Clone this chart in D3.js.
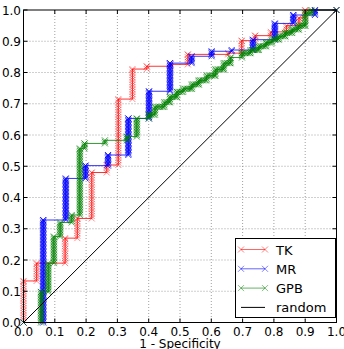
<!DOCTYPE html>
<html>
  <head>
    <meta charset="utf-8" />
    <style>
      body { margin: 0; background: #fff; }
      text { font-family: "DejaVu Sans", sans-serif; }
    </style>
    <script src="https://d3js.org/d3.v7.min.js"></script>
  </head>
  <body>
    <div id="chart"></div>
    <script type="text/javascript">
      // ROC step curves, [1 - specificity, sensitivity]
      var tkPoints = [
        [0, 0], [0, 0.133], [0.042, 0.133], [0.042, 0.19], [0.133, 0.19],
        [0.133, 0.27], [0.172, 0.27], [0.172, 0.333], [0.218, 0.333],
        [0.218, 0.48], [0.266, 0.48], [0.266, 0.504], [0.303, 0.504],
        [0.303, 0.715], [0.348, 0.715], [0.348, 0.811], [0.394, 0.811],
        [0.394, 0.82], [0.47, 0.82], [0.47, 0.826], [0.525, 0.826],
        [0.525, 0.858], [0.654, 0.858], [0.654, 0.862], [0.697, 0.862],
        [0.697, 0.902], [0.74, 0.902], [0.74, 0.918], [0.79, 0.918],
        [0.79, 0.93], [0.84, 0.93], [0.84, 0.95], [0.88, 0.95],
        [0.88, 0.975], [0.9, 0.975], [0.9, 1.0], [1, 1]
      ];
      var mrPoints = [
        [0, 0], [0.063, 0], [0.063, 0.328], [0.135, 0.328], [0.135, 0.461],
        [0.198, 0.461], [0.198, 0.502], [0.27, 0.502], [0.27, 0.536],
        [0.335, 0.536], [0.335, 0.653], [0.401, 0.653], [0.401, 0.74],
        [0.468, 0.74], [0.468, 0.83], [0.537, 0.83], [0.537, 0.852],
        [0.601, 0.852], [0.601, 0.868], [0.665, 0.868], [0.665, 0.872],
        [0.733, 0.872], [0.733, 0.905], [0.803, 0.905], [0.803, 0.957],
        [0.862, 0.957], [0.862, 0.984], [0.931, 0.984], [0.931, 1.0], [1, 1]
      ];
      var gpbPoints = [
        [0, 0], [0.056, 0], [0.056, 0.098], [0.079, 0.098], [0.079, 0.19],
        [0.097, 0.19], [0.097, 0.275], [0.117, 0.275], [0.117, 0.32],
        [0.154, 0.32], [0.154, 0.344], [0.18, 0.344], [0.18, 0.557],
        [0.195, 0.557], [0.195, 0.573], [0.26, 0.573], [0.26, 0.583],
        [0.33, 0.583], [0.33, 0.595], [0.362, 0.595], [0.362, 0.653],
        [0.4, 0.653], [0.4, 0.665], [0.42, 0.665], [0.42, 0.69],
        [0.45, 0.69], [0.45, 0.705], [0.468, 0.705], [0.468, 0.722],
        [0.49, 0.722], [0.49, 0.738], [0.51, 0.738], [0.51, 0.748],
        [0.538, 0.748], [0.538, 0.762], [0.56, 0.762], [0.56, 0.775],
        [0.585, 0.775], [0.585, 0.79], [0.613, 0.79], [0.613, 0.81],
        [0.64, 0.81], [0.64, 0.83], [0.661, 0.83], [0.661, 0.848],
        [0.698, 0.848], [0.698, 0.862], [0.725, 0.862], [0.725, 0.872],
        [0.751, 0.872], [0.751, 0.884], [0.775, 0.884], [0.775, 0.896],
        [0.794, 0.896], [0.794, 0.906], [0.815, 0.906], [0.815, 0.916],
        [0.836, 0.916], [0.836, 0.927], [0.858, 0.927], [0.858, 0.938],
        [0.879, 0.938], [0.879, 0.95], [0.9, 0.95], [0.9, 0.99],
        [0.92, 0.99], [0.92, 1.0], [1, 1]
      ];
      var randomPoints = [[0, 0], [1, 1]];

      var seriesNames = ["TK", "MR", "GPB", "random"];
      var seriesColors = ["#ff0000", "#0000ff", "#008000", "#000000"];
      var tickValues = [0, 0.1, 0.2, 0.3, 0.4, 0.5, 0.6, 0.7, 0.8, 0.9, 1.0];

      var series = [
        { name: "TK", pts: tkPoints, color: seriesColors[0], op: 0.45, step: 2.4 },
        { name: "MR", pts: mrPoints, color: seriesColors[1], op: 0.8, step: 1.4 },
        { name: "GPB", pts: gpbPoints, color: seriesColors[2], op: 0.7, step: 1.6 }
      ];

      var w = 344, h = 349;
      var padL = 23.5, padR = 336.5, padT = 10, padB = 322.5;

      var x = d3.scaleLinear().domain([0, 1]).range([padL, padR]);
      var y = d3.scaleLinear().domain([0, 1]).range([padB, padT]);

      var svg = d3.select("#chart").append("svg")
        .attr("width", w).attr("height", h);

      // grid
      var grid = svg.append("g");
      grid.selectAll("line.gx").data(tickValues.slice(1, -1)).enter().append("line")
        .attr("x1", function (d) { return x(d); }).attr("x2", function (d) { return x(d); })
        .attr("y1", padT).attr("y2", padB)
        .attr("stroke", "#888").attr("stroke-width", 0.8).attr("stroke-dasharray", "1,2");
      grid.selectAll("line.gy").data(tickValues.slice(1, -1)).enter().append("line")
        .attr("y1", function (d) { return y(d); }).attr("y2", function (d) { return y(d); })
        .attr("x1", padL).attr("x2", padR)
        .attr("stroke", "#888").attr("stroke-width", 0.8).attr("stroke-dasharray", "1,2");

      var line = d3.line().x(function (d) { return x(d[0]); }).y(function (d) { return y(d[1]); });

      function xMarker(g, cx, cy, color, op) {
        var s = 3;
        g.append("path")
          .attr("d", "M" + (cx - s) + "," + (cy - s) + "L" + (cx + s) + "," + (cy + s) +
                     "M" + (cx - s) + "," + (cy + s) + "L" + (cx + s) + "," + (cy - s))
          .attr("stroke", color).attr("stroke-width", 1).attr("stroke-opacity", op)
          .attr("fill", "none");
      }

      series.forEach(function (s) {
        var g = svg.append("g");
        g.append("path").datum(s.pts).attr("d", line)
          .attr("fill", "none").attr("stroke", s.color)
          .attr("stroke-width", 1).attr("stroke-opacity", 0.8);
        // markers at the vertices, dense along vertical runs and short treads
        s.pts.forEach(function (p, i) {
          xMarker(g, x(p[0]), y(p[1]), s.color, s.op);
          if (i === 0) return;
          var q = s.pts[i - 1];
          var x0 = x(q[0]), y0 = y(q[1]), x1 = x(p[0]), y1 = y(p[1]);
          var len = Math.hypot(x1 - x0, y1 - y0);
          var dense = (q[0] === p[0]) || (s.name === "GPB" && len < 10 && q[1] > 0.6);
          if (!dense) return;
          for (var d = s.step; d < len; d += s.step) {
            xMarker(g, x0 + (x1 - x0) * d / len, y0 + (y1 - y0) * d / len, s.color, s.op);
          }
        });
      });

      svg.append("path").datum(randomPoints).attr("d", line)
        .attr("fill", "none").attr("stroke", "#000").attr("stroke-width", 1);

      // frame and inward ticks
      svg.append("rect").attr("x", padL).attr("y", padT)
        .attr("width", padR - padL).attr("height", padB - padT)
        .attr("fill", "none").attr("stroke", "#000").attr("stroke-width", 1);

      var ticks = svg.append("g").attr("stroke", "#000").attr("stroke-width", 1);
      tickValues.forEach(function (t) {
        ticks.append("line").attr("x1", x(t)).attr("x2", x(t)).attr("y1", padB).attr("y2", padB - 4);
        ticks.append("line").attr("x1", x(t)).attr("x2", x(t)).attr("y1", padT).attr("y2", padT + 4);
        ticks.append("line").attr("y1", y(t)).attr("y2", y(t)).attr("x1", padL).attr("x2", padL + 4);
        ticks.append("line").attr("y1", y(t)).attr("y2", y(t)).attr("x1", padR).attr("x2", padR - 4);
      });

      svg.selectAll("text.xt").data(tickValues).enter().append("text")
        .attr("x", function (d) { return x(d); }).attr("y", 336)
        .attr("text-anchor", "middle").attr("font-size", 12).attr("fill", "#000")
        .text(function (d) { return d.toFixed(1); });
      svg.selectAll("text.yt").data(tickValues).enter().append("text")
        .attr("x", 21).attr("y", function (d) { return y(d) + 4.5; })
        .attr("text-anchor", "end").attr("font-size", 12).attr("fill", "#000")
        .text(function (d) { return d.toFixed(1); });

      svg.append("text").attr("x", x(0.5)).attr("y", 348)
        .attr("text-anchor", "middle").attr("font-size", 12).attr("fill", "#000")
        .text("1 - Specificity");

      // legend
      var lg = svg.append("g");
      lg.append("rect").attr("x", 235.5).attr("y", 238.5).attr("width", 100).attr("height", 79)
        .attr("fill", "#fff").attr("stroke", "#000").attr("stroke-width", 1);
      seriesNames.forEach(function (name, i) {
        var yy = 249.5 + i * 19.3;
        var c = seriesColors[i];
        lg.append("line").attr("x1", 241).attr("x2", 265).attr("y1", yy).attr("y2", yy)
          .attr("stroke", c).attr("stroke-width", 1).attr("stroke-opacity", i < 3 ? 0.6 : 1);
        if (i < 3) {
          xMarker(lg, 241, yy, c, 0.5);
          xMarker(lg, 265, yy, c, 0.5);
        }
        lg.append("text").attr("x", 276).attr("y", yy + 5)
          .attr("font-size", 13).attr("fill", "#000").text(name);
      });
    </script>
  </body>
</html>
